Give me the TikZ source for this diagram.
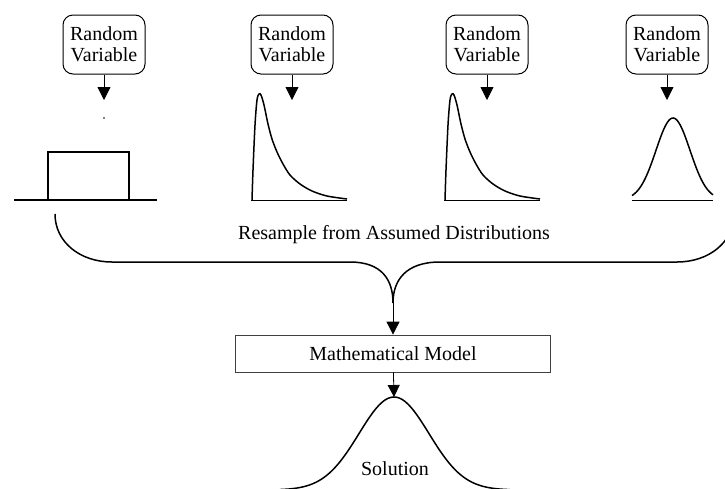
\documentclass[tikz,border=0pt]{standalone}
\usepackage{fontspec}
\setmainfont{Liberation Serif}
\usetikzlibrary{arrows.meta}

\begin{document}
\begin{tikzpicture}[x=1pt,y=-1pt,
					thick,
					every node/.style={font=\fontsize{20}{21}\selectfont},
					rv node/.style={draw,line width=1pt,rounded corners=10pt,align=center,
					                minimum width=82pt,minimum height=59pt,inner sep=2pt},
					model node/.style={draw=black!75,line width=0.8pt,minimum width=315pt,minimum height=37pt},
					arr/.style={-{Triangle[length=13pt,width=13pt]},line width=0.8pt},
					curve/.style={line width=1.5pt}]
  \useasboundingbox (0,0) rectangle (725,488);

  % random variables
  \node[rv node] (rv1) at (104,44.5) {Random\\Variable};
  \node[rv node] (rv2) at (292,44.5) {Random\\Variable};
  \node[rv node] (rv3) at (487,44.5) {Random\\Variable};
  \node[rv node] (rv4) at (667,44.5) {Random\\Variable};

  \coordinate (t1) at (104,100);
  \coordinate (t2) at (292,100);
  \coordinate (t3) at (487,100);
  \coordinate (t4) at (667,100);
  \foreach \i in {1,...,4}
    \draw[arr] (rv\i) -- (t\i);
  \fill (104,118) circle (0.8);

  % uniform
  \draw[line width=2.5pt] (14,200) -- (157,200);
  \draw[line width=2.5pt] (48,152) rectangle (129,200);

  % skewed (twice)
  \foreach \dx in {0,193} {
    \begin{scope}[xshift=\dx pt]
      \draw[line width=1pt] (251,200) -- (347,200);
      \draw[curve] plot[smooth] coordinates {(252,200) (253,170) (255,125) (257,100) (259,94)
        (261,95) (264,105) (268,124) (272,139) (277,152) (283,164) (290,175) (300,184)
        (312,191) (327,196) (347,199)};
    \end{scope}
  }

  % normal
  \draw[line width=1pt] (632,200) -- (713,200);
  \draw[curve] plot[domain=632:713,samples=60] (\x,{200-82*exp(-((\x-673)/17)*((\x-673)/17)/2)});

  \node[anchor=base] (resample) at (394,239) {Resample from Assumed Distributions};

  % brace
  \coordinate (bl) at (55,214);
  \coordinate (br) at (734,214);
  \coordinate (cusp) at (393,303);
  \draw[curve] (bl) .. controls (55,242) and (80,262) .. (112,262) -- (350,262)
    .. controls (382,262) and (393,280) .. (cusp)
    .. controls (393,280) and (406,262) .. (440,262) -- (677,262)
    .. controls (709,262) and (734,242) .. (br);

  \node[model node] (model) at (393,353.5) {Mathematical Model};
  \draw[arr] (cusp) -- (model);

  % solution
  \coordinate (peak) at (394,397);
  \draw[arr,-{Triangle[length=12pt,width=12pt]}] (model) -- (peak);
  \draw[curve] plot[domain=280:510,samples=80] (\x,{490-93*exp(-(\x-394)*(\x-394)/2450)});
  \node[anchor=base] (sol) at (395,475) {Solution};
\end{tikzpicture}
\end{document}
